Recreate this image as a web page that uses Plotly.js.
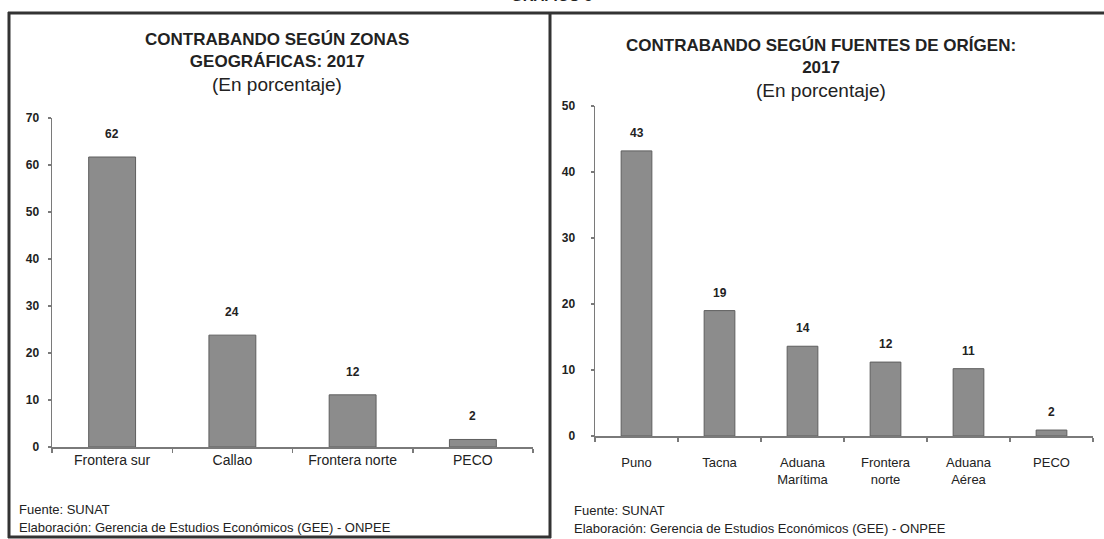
<!DOCTYPE html>
<html>
<head>
<meta charset="utf-8">
<script src="https://cdn.plot.ly/plotly-3.0.1.min.js"></script>
<style>
html,body{margin:0;padding:0;background:#fff;}
#chart{width:1104px;height:539px;}
</style>
</head>
<body>
<div id="chart"></div>
<script>
// ---- Data ----
const zonaCategories = ["Frontera sur", "Callao", "Frontera norte", "PECO"];
const zonaValues = [61.7, 23.8, 11.1, 1.6];
const zonaLabels = ["62", "24", "12", "2"];

const fuenteCategories = ["Puno", "Tacna", "Aduana<br>Marítima", "Frontera<br>norte", "Aduana<br>Aérea", "PECO"];
const fuenteValues = [43.2, 19.0, 13.6, 11.2, 10.2, 0.9];
const fuenteLabels = ["43", "19", "14", "12", "11", "2"];

const zonaYTicks = [0, 10, 20, 30, 40, 50, 60, 70];
const fuenteYTicks = [0, 10, 20, 30, 40, 50];

const leftTitle = "<b>CONTRABANDO SEGÚN ZONAS</b><br><b>GEOGRÁFICAS: 2017</b>";
const rightTitle = "<b>CONTRABANDO SEGÚN FUENTES DE ORÍGEN:</b><br><b>2017</b>";
const subTitle = "(En porcentaje)";
const sourceText = "Fuente: SUNAT";
const elabText = "Elaboración: Gerencia de Estudios Económicos (GEE) - ONPEE";

// ---- Helpers ----
const W = 1104, H = 539;
const px = x => x / W;
const py = y => 1 - y / H;
const FONT = "Liberation Sans, Arial, Helvetica, sans-serif";
const TXT = "#222";
const AX = "#7a7a7a";

const barStyle = {color: "#8c8c8c", line: {color: "#5e5e5e", width: 1}};

const traces = [
  {type: "bar", x: zonaCategories, y: zonaValues, xaxis: "x", yaxis: "y",
   width: 0.39, marker: barStyle, hoverinfo: "x+y", showlegend: false},
  {type: "bar", x: fuenteCategories, y: fuenteValues, xaxis: "x2", yaxis: "y2",
   width: 0.37, marker: barStyle, hoverinfo: "x+y", showlegend: false}
];

const annotations = [];
zonaCategories.forEach((c, i) => annotations.push({
  xref: "x", yref: "y", x: c, y: zonaValues[i], text: "<b>" + zonaLabels[i] + "</b>",
  showarrow: false, xanchor: "center", yanchor: "bottom", yshift: 14, font: {family: FONT, size: 12, color: TXT}
}));
fuenteCategories.forEach((c, i) => annotations.push({
  xref: "x2", yref: "y2", x: c, y: fuenteValues[i], text: "<b>" + fuenteLabels[i] + "</b>",
  showarrow: false, xanchor: "center", yanchor: "bottom", yshift: 9, font: {family: FONT, size: 12, color: TXT}
}));

function txt(x, y, text, opts) {
  return Object.assign({xref: "paper", yref: "paper", x: px(x), y: py(y), text: text,
    showarrow: false, xanchor: "center", font: {family: FONT, size: 13, color: TXT}}, opts || {});
}
annotations.push(txt(552, 6, "<b>GRÁFICO 5</b>", {yanchor: "bottom", font: {family: FONT, size: 15, color: TXT}}));
annotations.push(txt(277, 51, leftTitle, {yanchor: "middle", font: {family: FONT, size: 17, color: TXT}}));
annotations.push(txt(277, 85, subTitle, {yanchor: "middle", font: {family: FONT, size: 19, color: TXT}}));
annotations.push(txt(821, 56, rightTitle, {yanchor: "middle", font: {family: FONT, size: 17, color: TXT}}));
annotations.push(txt(821, 90, subTitle, {yanchor: "middle", font: {family: FONT, size: 19, color: TXT}}));
annotations.push(txt(17, 509, sourceText, {xanchor: "left", yanchor: "middle"}));
annotations.push(txt(17, 527, elabText, {xanchor: "left", yanchor: "middle"}));
annotations.push(txt(572, 510, sourceText, {xanchor: "left", yanchor: "middle"}));
annotations.push(txt(572, 528, elabText, {xanchor: "left", yanchor: "middle"}));

const BORDER = "#333";
const shapes = [
  {type: "line", xref: "paper", yref: "paper", x0: px(8), x1: px(1104), y0: py(13), y1: py(13), line: {color: BORDER, width: 3}},
  {type: "line", xref: "paper", yref: "paper", x0: px(9), x1: px(9), y0: py(12), y1: py(538), line: {color: BORDER, width: 3}},
  {type: "line", xref: "paper", yref: "paper", x0: px(550), x1: px(550), y0: py(12), y1: py(538), line: {color: BORDER, width: 3}},
  {type: "line", xref: "paper", yref: "paper", x0: px(8), x1: px(551), y0: py(537), y1: py(537), line: {color: BORDER, width: 3}}
];

const xBase = {type: "category", showgrid: false, zeroline: false, showline: true, linecolor: AX, linewidth: 1.5,
  ticks: "outside", tickson: "boundaries", ticklen: 4, tickcolor: AX, tickwidth: 1.5,
  tickfont: {family: FONT, size: 14, color: TXT}, fixedrange: true};
const yBase = {showgrid: false, zeroline: false, showline: true, linecolor: AX, linewidth: 1.5,
  ticks: "outside", ticklen: 3, tickcolor: AX, tickwidth: 1.5,
  tickfont: {family: FONT, size: 12, color: TXT}, fixedrange: true, tickmode: "array"};

const layout = {
  width: W, height: H,
  margin: {l: 0, r: 0, t: 0, b: 0},
  paper_bgcolor: "#fff", plot_bgcolor: "rgba(0,0,0,0)",
  showlegend: false,
  bargap: 0.6,
  xaxis: Object.assign({}, xBase, {domain: [px(52), px(533)], anchor: "y", range: [-0.5, 3.5]}),
  yaxis: Object.assign({}, yBase, {domain: [py(447), py(118)], anchor: "x", range: [0, 70],
    tickvals: zonaYTicks, ticktext: zonaYTicks.map(v => "<b>" + v + "</b>"), ticklabelstandoff: 6}),
  xaxis2: Object.assign({}, xBase, {domain: [px(595), px(1093)], anchor: "y2", range: [-0.5, 5.5],
    tickfont: {family: FONT, size: 13, color: TXT}, ticklabelstandoff: 14}),
  yaxis2: Object.assign({}, yBase, {domain: [py(436), py(106)], anchor: "x2", range: [0, 50],
    tickvals: fuenteYTicks, ticktext: fuenteYTicks.map(v => "<b>" + v + "</b>"), ticklabelstandoff: 13}),
  annotations: annotations,
  shapes: shapes
};

Plotly.newPlot("chart", traces, layout, {displayModeBar: false, staticPlot: true});
</script>
</body>
</html>
